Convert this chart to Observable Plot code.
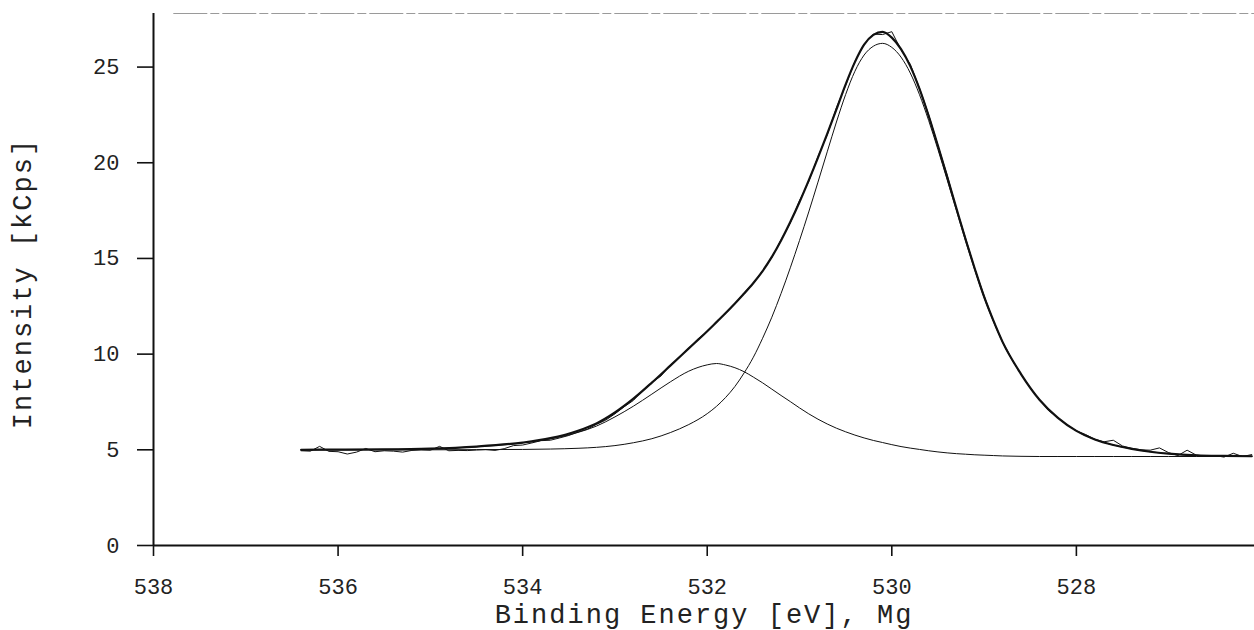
<!DOCTYPE html>
<html>
<head>
<meta charset="utf-8">
<script src="https://cdn.jsdelivr.net/npm/d3@7"></script>
<script src="https://cdn.jsdelivr.net/npm/@observablehq/plot@0.6"></script>
<style>
  html, body { margin: 0; padding: 0; background: #fff; }
  #chart { width: 1254px; height: 630px; }
</style>
</head>
<body>
<div id="chart"></div>
<script>
// ---- axis settings ----
const xDomain = [538, 526.07];
const yDomain = [0, 27.8];
const xTicks = [538, 536, 534, 532, 530, 528];
const yTicks = [0, 5, 10, 15, 20, 25];
const xTitle = "Binding Energy [eV], Mg";
const yTitle = "Intensity [kCps]";
const topRuleX = [537.78, 526.07];

// ---- fitted curves (binding energy grid) ----
const fitEnergy = [536.4, 536.0, 535.5, 535.0, 534.5, 534.0, 533.7, 533.4, 533.2, 533.0,
  532.8, 532.6, 532.4, 532.2, 532.0, 531.9, 531.8, 531.7, 531.6, 531.5,
  531.4, 531.3, 531.2, 531.1, 531.0, 530.9, 530.8, 530.7, 530.6, 530.5,
  530.4, 530.3, 530.2, 530.1, 530.0, 529.9, 529.8, 529.7, 529.6, 529.5,
  529.4, 529.3, 529.2, 529.1, 529.0, 528.9, 528.8, 528.6, 528.4, 528.2,
  528.0, 527.8, 527.6, 527.4, 527.2, 527.0, 526.7, 526.4, 526.1];

// main component (~530.1 eV)
const component1 = [5.00, 5.00, 5.00, 5.00, 5.01, 5.02, 5.04, 5.08, 5.13, 5.22,
  5.37, 5.58, 5.90, 6.32, 6.89, 7.27, 7.74, 8.31, 9.02, 9.84,
  10.83, 11.93, 13.17, 14.51, 15.94, 17.43, 18.99, 20.57, 22.13, 23.57,
  24.78, 25.63, 26.09, 26.24, 26.03, 25.52, 24.69, 23.56, 22.20, 20.69,
  19.11, 17.50, 15.90, 14.38, 12.95, 11.72, 10.62, 8.95, 7.62, 6.67,
  5.99, 5.54, 5.25, 5.05, 4.90, 4.80, 4.71, 4.68, 4.665];

// second component (~531.9 eV)
const component2 = [5.00, 5.01, 5.02, 5.06, 5.16, 5.36, 5.57, 5.91, 6.24, 6.72,
  7.28, 7.91, 8.55, 9.11, 9.44, 9.51, 9.43, 9.29, 9.08, 8.80,
  8.50, 8.17, 7.84, 7.52, 7.19, 6.88, 6.60, 6.35, 6.13, 5.94,
  5.77, 5.62, 5.49, 5.38, 5.27, 5.17, 5.09, 5.02, 4.95, 4.89,
  4.84, 4.80, 4.77, 4.74, 4.72, 4.70, 4.68, 4.66, 4.65, 4.65,
  4.65, 4.65, 4.65, 4.65, 4.65, 4.65, 4.65, 4.65, 4.65];

// fit envelope
const envelope = [5.00, 5.01, 5.02, 5.06, 5.17, 5.38, 5.61, 6.00, 6.38, 6.95,
  7.67, 8.51, 9.40, 10.30, 11.20, 11.67, 12.15, 12.65, 13.17, 13.72,
  14.34, 15.08, 15.94, 16.90, 17.95, 19.08, 20.27, 21.51, 22.79, 24.10,
  25.26, 26.17, 26.68, 26.84, 26.54, 25.94, 25.05, 23.86, 22.44, 20.88,
  19.26, 17.62, 15.99, 14.45, 13.00, 11.76, 10.64, 8.96, 7.62, 6.67,
  5.99, 5.54, 5.25, 5.05, 4.90, 4.80, 4.71, 4.68, 4.665];

// ---- measured spectrum ----
const rawEnergy = [536.4, 536.3, 536.2, 536.1, 536.0, 535.9, 535.8, 535.7, 535.6, 535.5,
  535.4, 535.3, 535.2, 535.1, 535.0, 534.9, 534.8, 534.7, 534.6, 534.5,
  534.4, 534.3, 534.2, 534.1, 534.0, 533.9, 533.8, 533.7, 533.6, 533.5,
  533.4, 533.3, 533.2, 533.1, 533.0, 532.9, 532.8, 532.7, 532.6, 532.5,
  532.4, 532.3, 532.2, 532.1, 532.0, 531.9, 531.8, 531.7, 531.6, 531.5,
  531.4, 531.3, 531.2, 531.1, 531.0, 530.9, 530.8, 530.7, 530.6, 530.5,
  530.4, 530.3, 530.2, 530.1, 530.0, 529.9, 529.8, 529.7, 529.6, 529.5,
  529.4, 529.3, 529.2, 529.1, 529.0, 528.9, 528.8, 528.7, 528.6, 528.5,
  528.4, 528.3, 528.2, 528.1, 528.0, 527.9, 527.8, 527.7, 527.6, 527.5,
  527.4, 527.3, 527.2, 527.1, 527.0, 526.9, 526.8, 526.7, 526.6, 526.5,
  526.4, 526.3, 526.2, 526.1];
const rawCounts = [4.95, 4.93, 5.18, 4.92, 4.90, 4.78, 4.88, 5.07, 4.90, 4.95,
  4.93, 4.88, 4.97, 5.00, 4.98, 5.18, 4.95, 4.97, 4.96, 4.99,
  5.01, 4.97, 5.06, 5.22, 5.25, 5.36, 5.48, 5.50, 5.62, 5.75,
  5.93, 6.08, 6.33, 6.55, 6.88, 7.25, 7.58, 8.10, 8.52, 8.86,
  9.42, 9.85, 10.32, 10.80, 11.18, 11.72, 12.12, 12.62, 13.22, 13.70,
  14.36, 15.05, 15.98, 16.85, 18.02, 19.02, 20.33, 21.45, 22.88, 24.05,
  25.30, 26.20, 26.72, 26.70, 26.85, 25.90, 25.15, 23.90, 22.50, 20.90,
  19.35, 17.60, 16.05, 14.45, 13.05, 11.75, 10.65, 9.75, 8.95, 8.25,
  7.62, 7.05, 6.68, 6.30, 5.99, 5.80, 5.55, 5.42, 5.50, 5.20,
  5.08, 5.00, 4.98, 5.10, 4.85, 4.70, 4.98, 4.72, 4.68, 4.70,
  4.62, 4.82, 4.65, 4.75];

// ---- build tables ----
const fitRows = fitEnergy.map((e, i) => ({e, c1: component1[i], c2: component2[i], env: envelope[i]}));
const rawRows = rawEnergy.map((e, i) => ({e, v: rawCounts[i]}));

const ink = "#111";
const font = "'Liberation Mono', 'Courier New', monospace";

const chart = Plot.plot({
  width: 1254,
  height: 630,
  marginLeft: 153,
  marginRight: 0,
  marginTop: 13,
  marginBottom: 85,
  style: {background: "#fff", color: "#222", fontFamily: font, overflow: "visible"},
  x: {domain: xDomain},
  y: {domain: yDomain},
  marks: [
    Plot.ruleY([yDomain[1]], {x1: topRuleX[0], x2: topRuleX[1], stroke: "#9a9a9a", strokeWidth: 1, strokeDasharray: "34 3 9 3"}),
    Plot.axisX(xTicks, {tickSize: 11, tickPadding: 22, fontSize: 22, label: null, stroke: ink, strokeWidth: 1.6, tickFormat: d => String(d)}),
    Plot.axisY(yTicks, {tickSize: 16, tickPadding: 18, fontSize: 22, label: null, stroke: ink, strokeWidth: 1.6, tickFormat: d => String(d)}),
    Plot.ruleX([xDomain[0]], {y1: yDomain[0], y2: yDomain[1], stroke: ink, strokeWidth: 2}),
    Plot.ruleY([yDomain[0]], {x1: xDomain[0], x2: xDomain[1], stroke: ink, strokeWidth: 2}),
    Plot.line(fitRows, {x: "e", y: "c2", curve: "monotone-x", stroke: ink, strokeWidth: 1}),
    Plot.line(fitRows, {x: "e", y: "c1", curve: "monotone-x", stroke: ink, strokeWidth: 1}),
    Plot.line(fitRows, {x: "e", y: "env", curve: "monotone-x", stroke: ink, strokeWidth: 2.2}),
    Plot.line(rawRows, {x: "e", y: "v", stroke: ink, strokeWidth: 1}),
    Plot.text([xTitle], {frameAnchor: "bottom", dy: 69, text: d => d, fontSize: 27, fill: "#222", textAnchor: "middle", lineAnchor: "middle"}),
    Plot.text([yTitle], {frameAnchor: "left", dx: -131, dy: 4, text: d => d, fontSize: 27, fill: "#222", rotate: -90, textAnchor: "middle", lineAnchor: "middle"})
  ]
});

d3.select(chart).selectAll("g[aria-label=text] text").attr("letter-spacing", "2px");
document.getElementById("chart").appendChild(chart);
</script>
</body>
</html>
